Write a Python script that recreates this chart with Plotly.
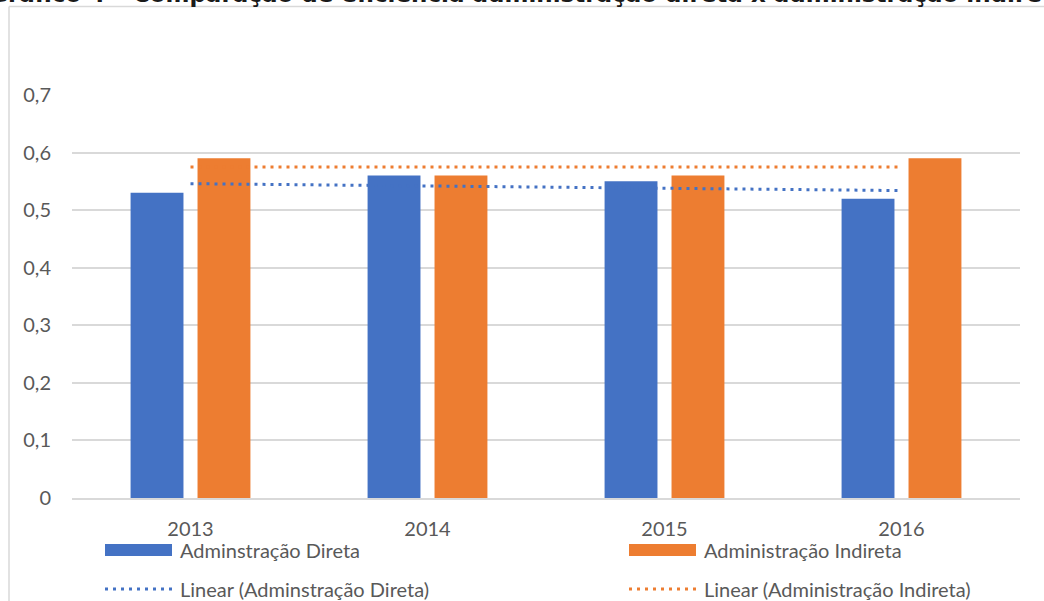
import numpy as np
import plotly.graph_objects as go

# ---- data ----
years = ["2013", "2014", "2015", "2016"]
direta = [0.53, 0.56, 0.55, 0.52]
indireta = [0.59, 0.56, 0.56, 0.59]
name_direta = "Adminstração Direta"
name_indireta = "Administração Indireta"
title_text = "Gráfico 4 – Comparação de eficiência administração direta x administração indireta"

BLUE = "#4472C4"
ORANGE = "#ED7D31"
TXT = "#595959"
GRID = "#D9D9D9"
FONT = "Lato, 'Open Sans', sans-serif"

W, H = 1044, 601
ML, MR, MT, MB = 72, 24, 95, 103
PW, PH = W - ML - MR, H - MT - MB


def px(x):
    return (x - ML) / PW


def py(y):
    return (H - MB - y) / PH


def trend(vals):
    idx = np.arange(1, len(vals) + 1)
    a, b = np.polyfit(idx, vals, 1)
    return list(a * idx + b)


fig = go.Figure()
fig.add_trace(go.Bar(x=years, y=direta, name=name_direta, marker=dict(color=BLUE, line=dict(width=0)), showlegend=False))
fig.add_trace(go.Bar(x=years, y=indireta, name=name_indireta, marker=dict(color=ORANGE, line=dict(width=0)), showlegend=False))
fig.add_trace(go.Scatter(x=years, y=trend(direta), mode="lines", name="Linear (" + name_direta + ")",
                         line=dict(color=BLUE, width=3, dash="3px,5px"), showlegend=False))
fig.add_trace(go.Scatter(x=years, y=trend(indireta), mode="lines", name="Linear (" + name_indireta + ")",
                         line=dict(color=ORANGE, width=3, dash="3px,5px"), showlegend=False))

shapes = []
annotations = []
# chart border (top & left visible)
shapes.append(dict(type="line", xref="paper", yref="paper", x0=px(9), x1=px(1060), y0=py(6.5), y1=py(6.5),
                   line=dict(color=GRID, width=1.5), layer="below"))
shapes.append(dict(type="line", xref="paper", yref="paper", x0=px(9), x1=px(9), y0=py(6.5), y1=py(620),
                   line=dict(color=GRID, width=1.5), layer="below"))

# custom legend
legend_items = [
    (name_direta, "bar", BLUE, 105, 550),
    (name_indireta, "bar", ORANGE, 629, 550),
    ("Linear (" + name_direta + ")", "dot", BLUE, 105, 589),
    ("Linear (" + name_indireta + ")", "dot", ORANGE, 629, 589),
]
for label, kind, color, x0, yc in legend_items:
    if kind == "bar":
        shapes.append(dict(type="rect", xref="paper", yref="paper", x0=px(x0), x1=px(x0 + 67),
                           y0=py(yc - 6), y1=py(yc + 6), fillcolor=color, line=dict(width=0)))
    else:
        shapes.append(dict(type="line", xref="paper", yref="paper", x0=px(x0), x1=px(x0 + 67),
                           y0=py(yc), y1=py(yc), line=dict(color=color, width=3, dash="3px,5px")))
    annotations.append(dict(text=label, xref="paper", yref="paper", x=px(x0 + 73), y=py(yc),
                            xanchor="left", yanchor="middle", showarrow=False,
                            font=dict(family=FONT, size=20, color=TXT)))

# clipped title at the top (only its lower part is visible, as in the source)
annotations.append(dict(text="<b>" + title_text + "</b>", xref="paper", yref="paper", x=px(-12), y=py(8),
                        xanchor="left", yanchor="bottom", showarrow=False, borderpad=0,
                        font=dict(family="'DejaVu Sans', sans-serif", size=23, color="#1a1a1a")))

fig.update_layout(
    width=W, height=H,
    margin=dict(l=ML, r=MR, t=MT, b=MB, pad=0),
    paper_bgcolor="white", plot_bgcolor="white",
    separators=",.",
    barmode="group", bargap=0.435, bargroupgap=0.21,
    font=dict(family=FONT, color=TXT),
    shapes=shapes, annotations=annotations,
    xaxis=dict(type="category", showgrid=False, showline=True, linecolor=GRID, linewidth=1.5,
               ticks="", tickfont=dict(size=20, color=TXT), ticklabelstandoff=12),
    yaxis=dict(range=[0, 0.7], dtick=0.1, showgrid=True, gridcolor=GRID, gridwidth=1.5,
               zeroline=False, showline=False, ticks="", tickfont=dict(size=20, color=TXT),
               ticklabelstandoff=20),
)

fig.write_html("out.html", config={"displayModeBar": False},
               post_script="document.body.style.margin='0';document.body.style.overflow='hidden';")
